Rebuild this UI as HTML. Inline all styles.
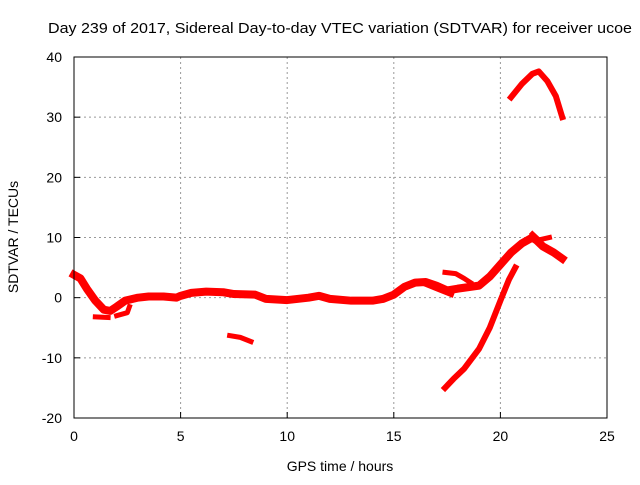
<!DOCTYPE html>
<html><head><meta charset="utf-8"><style>
body{margin:0;background:#fff;width:640px;height:480px;overflow:hidden}
svg{font-family:"Liberation Sans",sans-serif}
</style></head><body>
<svg id="chart" width="640" height="480" viewBox="0 0 640 480">
<text x="340" y="33" text-anchor="middle" font-size="15" textLength="584" lengthAdjust="spacingAndGlyphs">Day 239 of 2017, Sidereal Day-to-day VTEC variation (SDTVAR) for receiver ucoe</text>
<g id="grid"></g><g id="series"></g><g id="axes"></g>
<text x="340" y="471" text-anchor="middle" font-size="14">GPS time / hours</text>
<text transform="translate(18,237) rotate(-90)" text-anchor="middle" font-size="14">SDTVAR / TECUs</text>
</svg>
<script>
const xTicks=[0,5,10,15,20,25];
const yTicks=[-20,-10,0,10,20,30,40];
const mainTrack=[[0,3.8],[0.3,3.2],[0.6,1.5],[1.0,-0.5],[1.4,-2],[1.7,-2.2],[2.0,-1.5],[2.4,-0.5],[3,0],[3.5,0.2],[4.2,0.2],[4.8,0],[5,0.3],[5.5,0.8],[6.2,1],[7,0.9],[7.5,0.6],[8.5,0.5],[9,-0.2],[10,-0.4],[11,0],[11.5,0.3],[12,-0.2],[13,-0.5],[14,-0.5],[14.5,-0.2],[15,0.5],[15.5,1.8],[16,2.5],[16.5,2.6],[17,2],[17.5,1.2],[18,1.5],[19,2],[19.5,3.5],[20,5.5],[20.5,7.5],[21,9],[21.5,10],[21.7,9.5],[22,8.5],[22.5,7.5],[22.9,6.5]];
const branchA=[[1.0,-3.2],[1.6,-3.3]];
const branchB=[[2.0,-3],[2.5,-2.5],[2.6,-1.5]];
const branchC=[[17.4,4.2],[17.9,4],[18.3,3.2],[18.6,2.5]];
const branchD=[[21.5,10.6],[21.8,9.6],[22.3,10]];
const branchE=[[16.3,2.5],[17,1.5],[17.7,0.5]];
const shortTrack=[[7.3,-6.3],[7.8,-6.6],[8.3,-7.3]];
const risingTrack=[[17.4,-15],[17.8,-13.5],[18.3,-11.8],[19,-8.5],[19.5,-5],[20,-0.5],[20.4,3],[20.7,5]];
const highTrack=[[20.5,33.3],[21,35.5],[21.5,37.2],[21.8,37.6],[22.2,36],[22.6,33.5],[22.9,30]];
const X0=74,X1=607,Y0=418,Y1=57;
const sx=h=>X0+(h-0)/(25-0)*(X1-X0);
const sy=v=>Y0-(v+20)/(60)*(Y0-Y1);
const NS="http://www.w3.org/2000/svg";
function mk(t,a,p){const e=document.createElementNS(NS,t);for(const k in a)e.setAttribute(k,a[k]);p.appendChild(e);return e;}
const grid=document.getElementById('grid'),axes=document.getElementById('axes'),ser=document.getElementById('series');
xTicks.forEach(t=>{
 if(t>0&&t<25){const l=mk('line',{x1:sx(t),x2:sx(t),y1:Y1,y2:Y0,stroke:'#999','stroke-dasharray':'2,3'},grid);
 
 }
 const tk=mk('line',{x1:sx(t),x2:sx(t),y1:Y0,y2:Y0-6,stroke:'#000'},axes);
 
 
 const tx=mk('text',{x:sx(t),y:Y0+23,'text-anchor':'middle','font-size':14},axes);tx.textContent=t;
 
 
});
yTicks.forEach(t=>{
 if(t>-20&&t<40){const l=mk('line',{x1:X0,x2:X1,y1:sy(t),y2:sy(t),stroke:'#999','stroke-dasharray':'2,3'},grid);
 
 }
 const tk=mk('line',{x1:X0,x2:X0+6,y1:sy(t),y2:sy(t),stroke:'#000'},axes);
 
 
 const tx=mk('text',{x:X0-12,y:sy(t)+5,'text-anchor':'end','font-size':14},axes);tx.textContent=t;
 
 
});
const fr=mk('rect',{x:X0,y:Y1,width:X1-X0,height:Y0-Y1,fill:'none',stroke:'#000'},axes);


const all=[['main-track',mainTrack,8],['branch-a',branchA,5],['branch-b',branchB,5],['branch-c',branchC,5],['branch-d',branchD,5],['branch-e',branchE,5],['short-track',shortTrack,5],['rising-track',risingTrack,6],['high-track',highTrack,6]];
all.forEach(([n,d,w])=>{
 const p=mk('polyline',{points:d.map(q=>sx(q[0])+','+sy(q[1])).join(' '),fill:'none',stroke:'#f00','stroke-width':w,'stroke-linejoin':'round','stroke-linecap':'square'},ser);
 
 
});
</script>
</body></html>
